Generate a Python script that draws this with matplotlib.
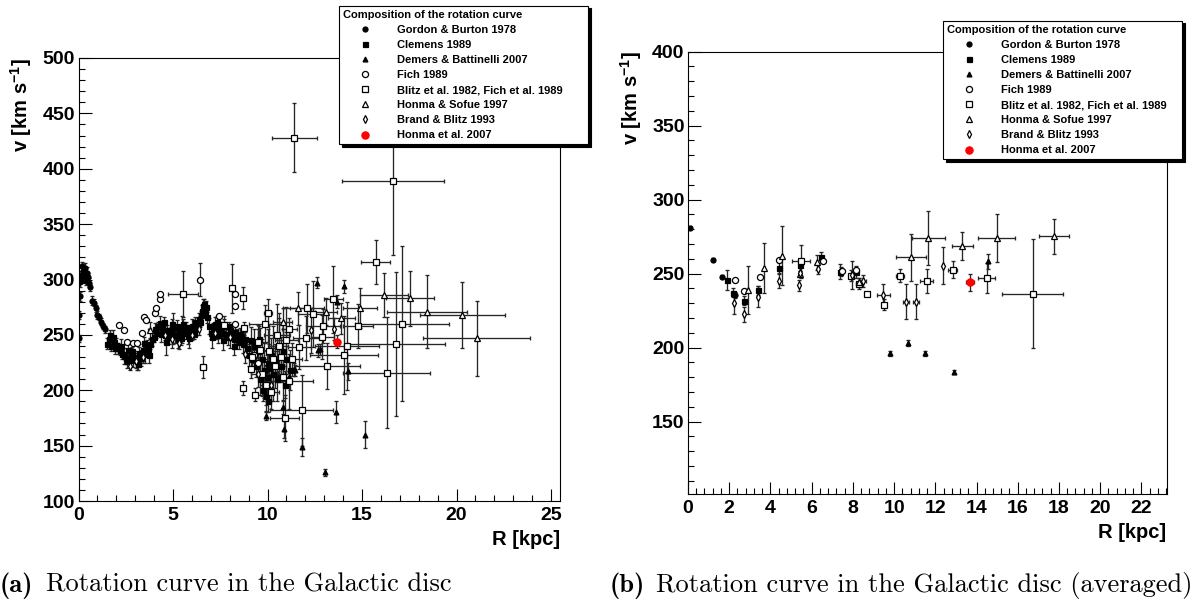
import numpy as np
import matplotlib.pyplot as plt
from matplotlib.ticker import MultipleLocator

plt.rcParams['font.family'] = ['Liberation Sans', 'DejaVu Sans']
plt.rcParams['font.weight'] = 'bold'
plt.rcParams['mathtext.default'] = 'regular'

# ---------------- (a) rotation curve, all data ----------------
gb_r_a = [0.02, 0.04, 0.07, 0.1, 0.14, 0.18, 0.22, 0.26, 0.3, 0.34, 0.38, 0.42,
          0.46, 0.5, 0.55, 0.6, 0.7, 0.8, 0.9, 1.0, 1.1, 1.2, 1.3, 1.4]
gb_v_a = [247, 268, 285, 298, 304, 312, 308, 301, 306, 310, 303, 299,
          306, 302, 297, 293, 281, 279, 274, 268, 266, 262, 258, 255]
gb_e_a = [3, 4, 4, 5, 4, 4, 5, 4, 4, 5, 4, 4,
          5, 4, 4, 3, 4, 3, 3, 4, 3, 3, 3, 3]

cl_r_a = [1.5, 1.6, 1.65, 1.7, 1.8, 1.9, 1.95, 2.0, 2.1, 2.2,
          2.25, 2.3, 2.4, 2.5, 2.55, 2.6, 2.7, 2.8, 2.85, 2.9,
          3.0, 3.1, 3.15, 3.2, 3.3, 3.4, 3.45, 3.5, 3.6, 3.7,
          3.75, 3.8, 3.9, 4.0, 4.05, 4.1, 4.2, 4.3, 4.35, 4.4,
          4.5, 4.6, 4.65, 4.7, 4.8, 4.9, 4.95, 5.0, 5.1, 5.2,
          5.25, 5.3, 5.4, 5.5, 5.55, 5.6, 5.7, 5.8, 5.85, 5.9,
          6.0, 6.1, 6.15, 6.2, 6.3, 6.4, 6.45, 6.5, 6.55, 6.6,
          6.65, 6.7, 6.75, 6.8, 6.9, 7.0, 7.05, 7.1, 7.2, 7.3,
          7.35, 7.4, 7.5, 7.6, 7.65, 7.7, 7.8, 7.9, 7.95, 8.0,
          8.1, 8.2, 8.25, 8.3, 8.4, 8.5, 8.55, 8.6, 8.7, 8.8,
          8.9, 9.0, 9.1, 9.2, 9.3, 9.4, 9.5, 9.55, 9.6, 9.7,
          9.75, 9.8, 9.85, 9.9, 9.95, 10.0, 10.05, 10.1, 10.2, 10.3,
          10.4, 10.5, 10.6, 10.7, 10.8, 10.9, 11.0, 11.2]
cl_v_a = [242, 246, 250, 240, 248, 244, 238, 241, 238, 236,
          240, 233, 231, 229, 226, 236, 227, 232, 235, 228,
          230, 226, 224, 234, 229, 236, 243, 233, 239, 237,
          232, 242, 246, 248, 255, 252, 258, 261, 251, 256,
          262, 250, 244, 254, 248, 252, 260, 256, 250, 258,
          246, 253, 247, 255, 260, 252, 257, 249, 247, 254,
          258, 251, 262, 256, 260, 264, 262, 268, 272, 276,
          278, 270, 275, 266, 258, 252, 248, 256, 260, 254,
          262, 250, 256, 252, 245, 258, 251, 248, 258, 254,
          250, 246, 240, 253, 249, 244, 251, 248, 242, 246,
          238, 232, 245, 228, 240, 222, 235, 246, 210, 228,
          200, 218, 205, 195, 212, 225, 190, 220, 232, 215,
          226, 210, 240, 222, 235, 205, 228, 218]
cl_e_a = [5, 6, 4, 5, 6, 4, 5, 6, 5, 4,
          6, 5, 7, 5, 6, 8, 5, 6, 4, 7,
          5, 8, 6, 5, 7, 6, 5, 8, 6, 5,
          7, 5, 6, 4, 6, 5, 4, 6, 7, 5,
          4, 6, 12, 5, 6, 5, 4, 14, 7, 5,
          8, 5, 6, 12, 4, 6, 5, 7, 9, 5,
          6, 5, 4, 6, 5, 6, 5, 4, 5, 6,
          4, 5, 6, 5, 7, 6, 10, 5, 6, 8,
          5, 7, 6, 5, 9, 6, 5, 7, 4, 6,
          5, 6, 8, 5, 6, 7, 5, 6, 8, 7,
          8, 10, 12, 9, 15, 10, 20, 12, 14, 18,
          10, 25, 12, 15, 20, 30, 10, 22, 15, 25,
          12, 20, 30, 15, 20, 12, 25, 18]

dm_r_a = [9.91, 10.56, 10.8, 10.86, 11.11, 11.41, 11.46, 11.84, 12.6,
          12.65, 12.78, 13.02, 13.65, 13.62, 14.05, 14.28, 15.15]
dm_v_a = [177, 212, 185, 165, 212, 219, 218, 149, 297,
          236, 237, 126, 280, 180, 294, 217, 160]
dm_e_a = [4, 5, 6, 8, 5, 6, 5, 8, 5, 6, 5, 3, 6, 10, 6, 8, 12]

fi_r_a = [2.16, 2.42, 2.56, 2.87, 3.11, 3.38, 3.48, 3.55, 4.05, 4.09,
          4.29, 4.29, 6.45, 7.44, 8.26, 8.26, 8.26, 9.3, 9.5]
fi_v_a = [259, 254, 244, 243, 243, 252, 266, 263, 270, 274,
          282, 287, 300, 267, 276, 287, 260, 232, 225]
fi_e_a = [0, 0, 0, 0, 0, 0, 0, 0, 0, 0,
          0, 0, 15, 0, 0, 0, 0, 0, 0]

bl_r_a = [5.51, 6.57, 7.71, 8.14, 8.71, 8.75, 9.13, 8.71, 9.36, 9.89,
          10.03, 10.9, 11.12, 11.15, 11.41, 11.68, 11.8, 12.04, 12.07, 12.42,
          12.9, 12.95, 13.17, 13.47, 14.05, 14.2, 14.8, 15.72, 16.3, 16.62,
          16.8, 17.1, 9.6, 10.3, 10.6, 9.2, 9.5, 9.7, 9.9, 10.1,
          10.2, 10.4, 10.5, 10.7, 10.8, 11.0, 11.3]
bl_v_a = [287, 221, 259, 292, 283, 256, 219, 202, 196, 260,
          270, 175, 208, 255, 428, 239, 182, 247, 274, 269,
          248, 258, 222, 282, 232, 240, 258, 316, 216, 389,
          242, 260, 236, 228, 240, 230, 244, 215, 205, 235,
          198, 222, 250, 230, 212, 245, 228]
bl_xe_a = [0.8, 0.15, 0.1, 0.1, 0.1, 0.1, 0.1, 0.1, 0.1, 0.85,
           0.2, 0.75, 1.3, 0.4, 1.2, 0.6, 1.66, 0.7, 0.9, 0.8,
           0.6, 0.9, 1.7, 0.5, 1.8, 1.7, 0.8, 0.76, 2.3, 2.7,
           2.6, 2.5, 0.6, 0.8, 0.5, 0.4, 0.5, 0.6, 0.3, 0.5,
           0.4, 0.6, 0.7, 0.5, 0.4, 0.6, 0.5]
bl_ye_a = [21, 10, 8, 22, 10, 6, 8, 6, 6, 17,
           12, 21, 25, 10, 31, 20, 32, 20, 22, 30,
           20, 15, 21, 30, 35, 40, 20, 20, 50, 67,
           65, 70, 20, 30, 25, 12, 15, 20, 18, 25,
           15, 20, 28, 18, 22, 30, 15]

hs_r_a = [3.76, 10.8, 11.6, 13.1, 13.9, 14.9, 16.15, 17.55, 18.43, 20.3, 21.07]
hs_v_a = [254, 262, 274, 271, 265, 274, 286, 283, 271, 268, 247]
hs_xe_a = [0.1, 0.5, 0.8, 0.6, 0.7, 0.9, 1.27, 1.27, 2.1, 2.25, 2.83]
hs_ye_a = [8, 12, 15, 12, 14, 18, 20, 25, 33, 30, 34]

bb_r_a = [2.73, 3.05, 3.4, 4.6, 4.95, 5.3, 6.0, 6.4, 7.2, 8.0, 8.8, 9.5, 10.2, 12.29, 13.51]
bb_v_a = [222, 226, 230, 250, 246, 243, 250, 255, 252, 248, 233, 215, 205, 254, 255]
bb_e_a = [4, 6, 5, 5, 8, 6, 5, 5, 6, 10, 8, 12, 15, 20, 10]

ho_r_a = [13.65]
ho_v_a = [244]
ho_xe_a = [0.12]
ho_ye_a = [6]

# ---------------- (b) averaged rotation curve ----------------
gb_r_b = [0.1, 1.2, 1.66, 2.26, 7.42]
gb_v_b = [281, 259.5, 247.8, 235.5, 251.6]
gb_e_b = [1, 1, 1, 2, 3]

cl_r_b = [1.88, 2.17, 2.72, 3.42, 4.44, 5.45, 6.46, 7.4, 8.17]
cl_v_b = [245.9, 237, 231.6, 238.8, 253.6, 255.9, 261.5, 251.4, 250.9]
cl_e_b = [6.7, 3, 3, 3, 4, 4, 3, 5, 4]

dm_r_b = [9.81, 10.7, 11.5, 12.91, 14.55]
dm_v_b = [196, 203, 196, 183.5, 258.3]
dm_e_b = [2, 2, 1.5, 1.5, 5]

fi_r_b = [2.27, 2.72, 3.47, 4.44, 6.54, 7.45, 8.17]
fi_v_b = [246, 238, 247.5, 259, 258.6, 252, 252.3]

bl_r_b = [5.48, 7.9, 8.3, 8.67, 9.51, 10.3, 11.58, 12.85, 14.5, 16.73]
bl_v_b = [258.3, 248.7, 243.3, 236, 229.1, 248.7, 244.8, 252.7, 247, 236.5]
bl_xe_b = [0.45, 0.1, 0.15, 0.05, 0.05, 0.2, 0.33, 0.22, 0.42, 1.48]
bl_ye_b = [11, 4, 4, 1, 4, 4.5, 8, 5.6, 10, 37]

hs_r_b = [2.92, 3.71, 4.57, 5.42, 6.26, 8.3, 10.82, 11.66, 13.31, 14.98, 17.76]
hs_v_b = [238.8, 253.9, 262.2, 250, 257.7, 244, 261, 274.1, 268.9, 274.1, 275.2]
hs_xe_b = [0, 0, 0, 0, 0, 0, 0.73, 0.81, 0.51, 0.89, 0.74]
hs_ye_b = [16, 17, 20, 2, 5, 3, 16, 18, 9.5, 16, 12]

bb_r_b = [2.24, 2.74, 3.42, 4.4, 5.4, 5.45, 6.33, 7.95, 8.51, 9.48, 10.58, 11.07, 12.39]
bb_v_b = [230.3, 222.4, 234.3, 245.3, 242, 250.6, 253.4, 248.9, 245, 235.4, 231.1, 231.1, 255.4]
bb_xe_b = [0, 0, 0, 0, 0, 0, 0, 0, 0.15, 0.32, 0.16, 0.16, 0]
bb_ye_b = [7.3, 5, 7, 5, 4, 3, 4, 9.5, 4, 7.5, 12, 12, 12.4]

ho_r_b = [13.69]
ho_v_b = [244.2]
ho_xe_b = [0.2]
ho_ye_b = [5.7]

labels = ['Gordon & Burton 1978', 'Clemens 1989', 'Demers & Battinelli 2007',
          'Fich 1989', 'Blitz et al. 1982, Fich et al. 1989',
          'Honma & Sofue 1997', 'Brand & Blitz 1993', 'Honma et al. 2007']

W, H = 1204, 603
fig = plt.figure(figsize=(W / 100, H / 100), dpi=100)
ax_a = fig.add_axes([78.5 / W, 102 / H, 481.5 / W, 443 / H])
ax_b = fig.add_axes([688 / W, 109 / H, 478.5 / W, 442.3 / H])


def draw(ax, r, v, xe, ye, marker, ms, face, label, edge='k'):
    ax.errorbar(r, v, xerr=xe, yerr=ye, fmt='none', ecolor='0.15',
                elinewidth=0.95, capsize=1.3, capthick=0.95, zorder=2)
    ax.plot(r, v, ls='none', marker=marker, ms=ms, mfc=face, mec=edge,
            mew=0.9, label=label, zorder=3)


def panel(ax, d):
    draw(ax, d[0][0], d[0][1], None, d[0][2], 'o', 3.6, 'k', labels[0])
    draw(ax, d[1][0], d[1][1], None, d[1][2], 's', 3.6, 'k', labels[1])
    draw(ax, d[2][0], d[2][1], None, d[2][2], '^', 3.5, 'k', labels[2])
    draw(ax, d[3][0], d[3][1], None, d[3][2], 'o', 4.4, 'w', labels[3])
    draw(ax, d[4][0], d[4][1], d[4][2], d[4][3], 's', 4.5, 'w', labels[4])
    draw(ax, d[5][0], d[5][1], d[5][2], d[5][3], '^', 5.0, 'w', labels[5])
    draw(ax, d[6][0], d[6][1], d[6][2], d[6][3], 'd', 4.2, 'w', labels[6])
    draw(ax, d[7][0], d[7][1], d[7][2], d[7][3], 'o', 5.2, 'red', labels[7],
         edge='red')


panel(ax_a, [(gb_r_a, gb_v_a, gb_e_a), (cl_r_a, cl_v_a, cl_e_a),
             (dm_r_a, dm_v_a, dm_e_a), (fi_r_a, fi_v_a, fi_e_a),
             (bl_r_a, bl_v_a, bl_xe_a, bl_ye_a), (hs_r_a, hs_v_a, hs_xe_a, hs_ye_a),
             (bb_r_a, bb_v_a, None, bb_e_a), (ho_r_a, ho_v_a, ho_xe_a, ho_ye_a)])
panel(ax_b, [(gb_r_b, gb_v_b, gb_e_b), (cl_r_b, cl_v_b, cl_e_b),
             (dm_r_b, dm_v_b, dm_e_b), (fi_r_b, fi_v_b, None),
             (bl_r_b, bl_v_b, bl_xe_b, bl_ye_b), (hs_r_b, hs_v_b, hs_xe_b, hs_ye_b),
             (bb_r_b, bb_v_b, bb_xe_b, bb_ye_b), (ho_r_b, ho_v_b, ho_xe_b, ho_ye_b)])


def style(ax, xlim, ylim, xmaj, xmin):
    ax.set_xlim(*xlim)
    ax.set_ylim(*ylim)
    ax.xaxis.set_major_locator(MultipleLocator(xmaj))
    ax.xaxis.set_minor_locator(MultipleLocator(xmin))
    ax.yaxis.set_major_locator(MultipleLocator(50))
    ax.yaxis.set_minor_locator(MultipleLocator(10))
    ax.tick_params(which='both', direction='in', top=False, right=False, width=0.8)
    ax.tick_params(which='major', length=9, labelsize=14)
    ax.tick_params(which='minor', length=4.5)
    ax.tick_params(axis='x', pad=4.5)
    ax.tick_params(axis='y', pad=2.5)
    for s in ax.spines.values():
        s.set_linewidth(0.8)
    ax.set_xlabel('R [kpc]', loc='right', fontsize=14.5, fontweight='bold',
                  labelpad=4)
    ax.set_ylabel('v [km s$^{-1}$]', loc='top', fontsize=14.5,
                  fontweight='bold', labelpad=6)


style(ax_a, (0, 25.47), (100, 500), 5, 1)
style(ax_b, (0, 23.22), (101, 400), 2, 0.4)

handles, labs = ax_a.get_legend_handles_labels()
for x0, y0, w, h in [(339, 5.7, 249, 139), (943, 20.7, 239, 135)]:
    leg = fig.legend(handles, labs, loc='upper left',
                     bbox_to_anchor=(x0 / W, 1 - (y0 + h) / H, w / W, h / H),
                     mode='expand', title='Composition of the rotation curve',
                     alignment='left', prop=dict(weight='bold', size=8),
                     title_fontproperties=dict(weight='bold', size=8),
                     fancybox=False, edgecolor='k', framealpha=1,
                     shadow={'shade': 1.0, 'alpha': 1}, borderpad=0.35,
                     labelspacing=0.46, handlelength=3.9, handletextpad=1.0,
                     borderaxespad=0, numpoints=1)
    leg.get_frame().set_linewidth(0.8)

for x_tag, x_txt, tag, txt in [(0, 46, '(a)', 'Rotation curve in the Galactic disc'),
                               (610, 656, '(b)', 'Rotation curve in the Galactic disc (averaged)')]:
    fig.text(x_tag / W, 1 - 592 / H, tag, family='cmb10', fontsize=19, va='baseline')
    fig.text(x_txt / W, 1 - 592 / H, txt, family='cmr10', fontsize=19,
             weight='normal', va='baseline')

fig.savefig('out.png', dpi=100)
